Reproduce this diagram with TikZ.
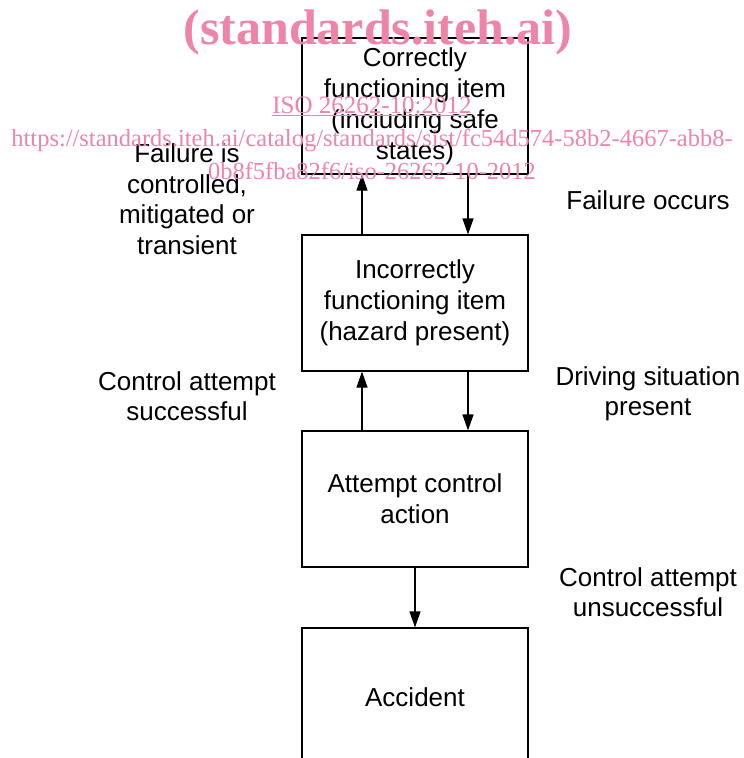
\documentclass[tikz,border=0pt]{standalone}
\usepackage{fontspec}
\setmainfont{Liberation Sans}
\newfontfamily\wmfont{Liberation Serif}
\usetikzlibrary{arrows.meta}

\definecolor{wmpink}{RGB}{238,132,166}

\tikzset{
  state/.style={draw,line width=1.1pt,minimum width=226pt,minimum height=136pt,
    align=center,inner sep=0pt,font=\fontsize{26pt}{31pt}\selectfont},
  trans/.style={align=center,inner sep=0pt,font=\fontsize{26pt}{30.5pt}\selectfont},
  flow/.style={line width=1.1pt,-{Triangle[length=16pt,width=11pt]}},
  stamp/.style={text=wmpink,inner sep=0pt}
}

\begin{document}
\begin{tikzpicture}[x=1pt,y=-1pt]
  \useasboundingbox (0,0) rectangle (744,758);
  \clip (0,0) rectangle (744,758);

  % states of the item
  \node[state] (ok)   at (415,106) {Correctly\\functioning item\\(including safe\\states)};
  \node[state] (bad)  at (415,303) {Incorrectly\\functioning item\\(hazard present)};
  \node[state] (ctrl) at (415,499) {Attempt control\\action};
  \node[state,minimum height=170pt] (acc) at (415,713) {\raisebox{32pt}{Accident}};

  % transitions
  \draw[flow] ([xshift=-53pt]bad.north) -- ([xshift=-53pt]ok.south);
  \draw[flow] ([xshift=53pt]ok.south) -- ([xshift=53pt]bad.north);
  \draw[flow] ([xshift=-53pt]ctrl.north) -- ([xshift=-53pt]bad.south);
  \draw[flow] ([xshift=53pt]bad.south) -- ([xshift=53pt]ctrl.north);
  \draw[flow] (ctrl.south) -- (acc.north);

  \node[trans] (fctl)  at (187,199) {Failure is\\controlled,\\mitigated or\\transient};
  \node[trans] (focc)  at (648,200) {Failure occurs};
  \node[trans] (csucc) at (187,396) {Control attempt\\successful};
  \node[trans] (drive) at (648,394) {Driving situation\\present};
  \node[trans] (cfail) at (648,592) {Control attempt\\unsuccessful};

  % watermark
  \node[stamp,font=\wmfont\bfseries\fontsize{50pt}{50pt}\selectfont] (wma) at (378,32) {(standards.iteh.ai)};
  \node[stamp,font=\wmfont\fontsize{25pt}{25pt}\selectfont] (wmb) at (372,106) {\underline{ISO 26262-10:2012}};
  \node[stamp,font=\wmfont\fontsize{24.5pt}{25pt}\selectfont] (wmc) at (372,141) {https://standards.iteh.ai/catalog/standards/sist/fc54d574-58b2-4667-abb8-};
  \node[stamp,font=\wmfont\fontsize{24.5pt}{25pt}\selectfont] (wmd) at (372,171) {0b8f5fba82f6/iso-26262-10-2012};
\end{tikzpicture}
\end{document}
